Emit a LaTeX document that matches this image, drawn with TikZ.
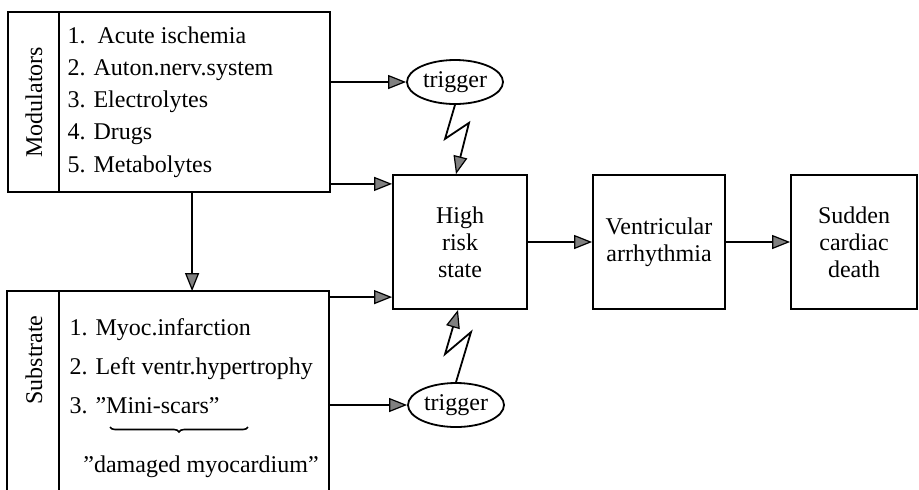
\documentclass[tikz,border=0pt]{standalone}
\usepackage{fontspec}
\setmainfont{Liberation Serif}
\usetikzlibrary{arrows.meta, shapes.geometric, calc, decorations.pathreplacing}

\tikzset{
    arr/.style={-{Triangle[length=9pt,width=7pt,fill=black!50,line width=0.6pt]}},
    block/.style={draw, rectangle, text centered, align=center, inner sep=0pt, minimum height=67pt},
    trig/.style={draw, ellipse, minimum width=48pt, minimum height=22pt, inner sep=0pt},
}

\begin{document}
\begin{tikzpicture}[x=0.5pt, y=-0.5pt, line width=0.9pt, font=\fontsize{12}{13.5}\selectfont]
    		\useasboundingbox (0,0) rectangle (919,489);

    		% Modulators block
    		\node (ModBox) at (169,102) [draw, minimum width=161pt, minimum height=90pt, inner sep=0pt]{};
    		\draw ($(ModBox.north west)+(52,0)$) -- ($(ModBox.south west)+(52,0)$);
    		\node (ModLabel) at (34,102) [rotate=90]{Modulators};
    		\node (ModList) at (60,102) [anchor=west, align=left, font=\fontsize{12}{16.1}\selectfont]{1.\ \ Acute ischemia\\2. Auton.nerv.system\\3. Electrolytes\\4. Drugs\\5. Metabolytes};

    		% Substrate block (open at the bottom)
    		\node (SubBox) at (168,390.5) [minimum width=160pt, minimum height=98.5pt, inner sep=0pt]{};
    		\draw (SubBox.south west) |- (SubBox.north east) -- (SubBox.south east);
    		\draw ($(SubBox.north west)+(52,0)$) -- ($(SubBox.south west)+(52,0)$);
    		\node (SubLabel) at (34,360) [rotate=90]{Substrate};
    		\node (SubList) at (62,366) [anchor=west, align=left, font=\fontsize{12}{19.5}\selectfont]{1. Myoc.infarction\\2. Left ventr.hypertrophy\\3. "Mini-scars"};
    		\coordinate (BraceL) at (110,427);
    		\coordinate (BraceR) at (248,427);
    		\draw[decorate, decoration={brace, mirror, amplitude=2.5pt}, line width=0.8pt] (BraceL) -- (BraceR);
    		\node (Damaged) at (201,467) [text centered]{"damaged myocardium"};

    		% Triggers
    		\node (Trigger1) at (455,82) [trig]{trigger};
    		\node (Trigger2) at (456,405) [trig]{trigger};

    		% Main chain
    		\node (HighRisk) at (460,242) [block, minimum width=67pt]{High\\risk\\state};
    		\node (Ventricular) at (659,242) [block, minimum width=66pt]{Ventricular\\arrhythmia};
    		\node (Sudden) at (854,242) [block, minimum width=63pt]{Sudden\\cardiac\\death};

    		% Connectors
    		\draw[arr] (ModBox.east |- Trigger1) -- (Trigger1);
    		\coordinate (ModOut) at ($(ModBox.south east)+(0,-9)$);
    		\draw[arr] (ModOut) -- (ModOut -| HighRisk.west);
    		\coordinate (ModDown) at ($(ModBox.south west)+(185,0)$);
    		\draw[arr] (ModDown) -- (ModDown |- SubBox.north);
    		\coordinate (SubOut) at ($(SubBox.north east)+(0,6)$);
    		\draw[arr] (SubOut) -- (SubOut -| HighRisk.west);
    		\draw[arr] (SubBox.east |- Trigger2) -- (Trigger2);

    		\draw[arr] (HighRisk) -- (Ventricular);
    		\draw[arr] (Ventricular) -- (Sudden);

    		% Lightning strokes
    		\draw[arr] (Trigger1.south) -- ++(-10,34) -- ++(24,-16) -- ($(HighRisk.north)+(-4,0)$);
    		\draw[arr] (Trigger2.north) -- ++(15,-50) -- ++(-26,22) -- ($(HighRisk.south)+(-2,0)$);
\end{tikzpicture}
\end{document}
